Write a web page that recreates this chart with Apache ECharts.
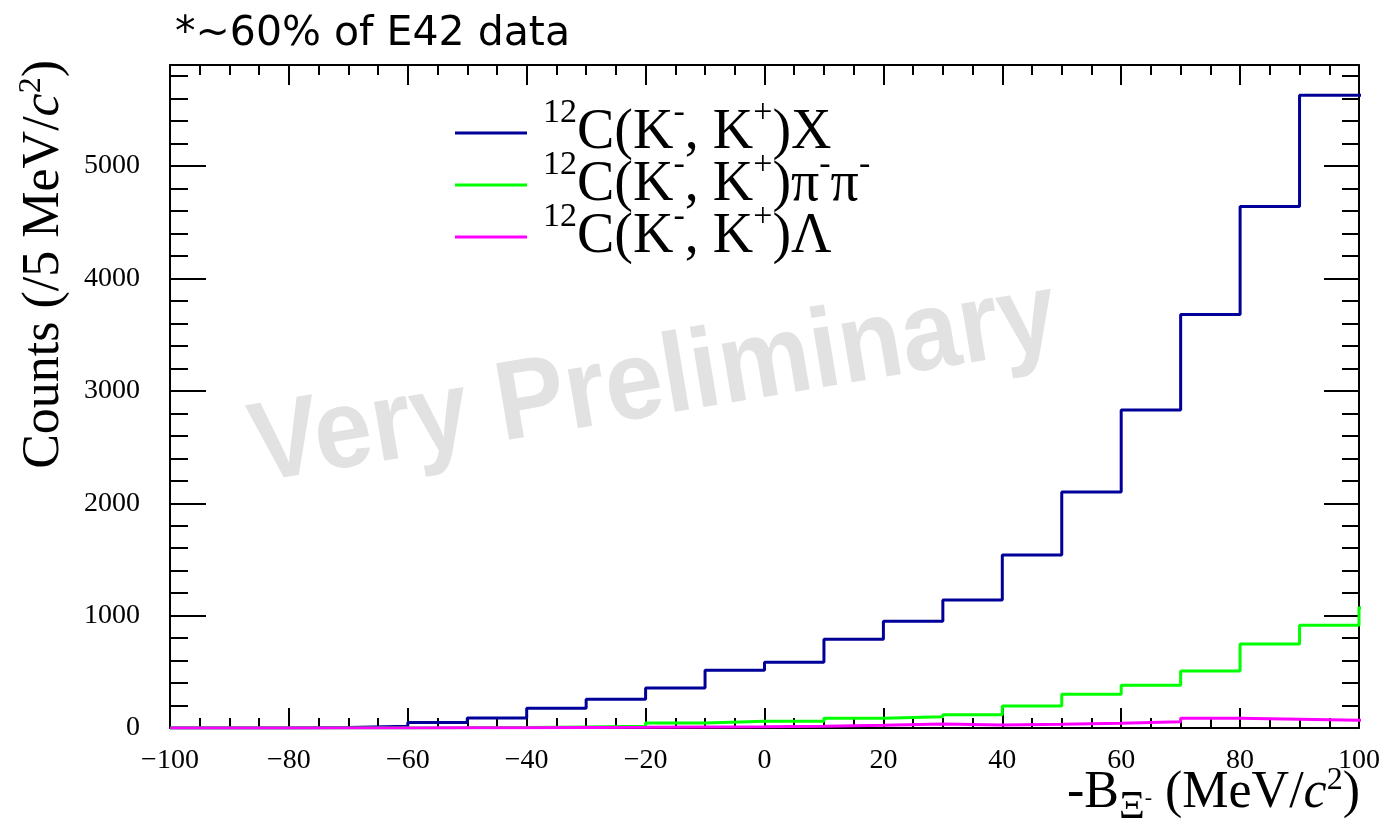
<!DOCTYPE html>
<html>
<head>
<meta charset="utf-8">
<script src="https://cdn.jsdelivr.net/npm/echarts@6/dist/echarts.min.js"></script>
<style>
html,body{margin:0;padding:0;background:#fff;}
#chart{width:1383px;height:821px;}
</style>
</head>
<body>
<div id="chart"></div>
<script>
// ---- data (bin low edges, 10 MeV bins; last entry = overflow bin) ----
const binLow = [-100,-90,-80,-70,-60,-50,-40,-30,-20,-10,0,10,20,30,40,50,60,70,80,90,100];
const inclusive = [0,0,4,15,50,90,175,255,355,515,585,790,950,1140,1540,2100,2830,3680,4640,5630,5630];
const pipi      = [0,0,0,0,2,5,10,15,45,60,60,87,100,119,196,300,380,507,748,914,1070];
const lambda    = [0,0,0,0,2,3,5,6,10,12,15,25,36,27,33,42,56,86,77,68,68];
const seriesNames = ['X','pipi','Lambda'];
const seriesColors = ['#000099','#00ff00','#ff00ff'];
const xTicks = {min:-100, max:100, interval:20};
const yTicks = {min:0, max:5900, interval:1000, minor:200};

function pairs(vals){
  const out = binLow.map((x,i)=>[x, vals[i]]);
  out.push([binLow[binLow.length-1]+10, vals[vals.length-1]]);
  return out;
}
const allVals = [inclusive, pipi, lambda];

const serif = 'Liberation Serif, Times New Roman, serif';
const legendRich = {
  n:  {fontFamily: serif, fontSize: 56, verticalAlign:'middle', color:'#000'},
  s:  {fontFamily: serif, fontSize: 34, padding:[0,0,40,0], verticalAlign:'middle', color:'#000'},
  gap:{width: 11}
};
const legendText = {
  X:      '{gap|}{s|12}{n|C(K}{s|-}{n|, K}{s|+}{n|)X}',
  pipi:   '{gap|}{s|12}{n|C(K}{s|-}{n|, K}{s|+}{n|)π}{s|-}{n|π}{s|-}',
  Lambda: '{gap|}{s|12}{n|C(K}{s|-}{n|, K}{s|+}{n|)Λ}'
};

const chart = echarts.init(document.getElementById('chart'), null, {renderer:'canvas'});
const tickStyle = {color:'#000', width:2};
const option = {
  animation: false,
  backgroundColor: '#fff',
  grid: {left:170, right:23, top:65, bottom:93, containLabel:false},
  legend: {
    orient:'vertical', left:455, top:96, itemGap:-13, padding:0,
    itemWidth:72, itemHeight:3, icon:'rect',
    data: seriesNames,
    formatter: name => legendText[name],
    textStyle: {rich: legendRich}
  },
  xAxis: [
    {type:'value', position:'bottom', min:xTicks.min, max:xTicks.max, interval:xTicks.interval,
     axisLine:{show:true, onZero:false, lineStyle:{color:'#000', width:2}},
     axisTick:{show:true, inside:true, length:20, lineStyle:tickStyle},
     minorTick:{show:true, splitNumber:4, length:10, lineStyle:tickStyle},
     splitLine:{show:false},
     axisLabel:{show:true, margin:19, color:'#000', fontFamily:serif, fontSize:28,
       formatter: v => v < 0 ? '\u2212' + (-v) : String(v)}},
    {type:'value', position:'top', min:xTicks.min, max:xTicks.max, interval:xTicks.interval,
     axisLine:{show:true, onZero:false, lineStyle:{color:'#000', width:2}},
     axisTick:{show:true, inside:true, length:20, lineStyle:tickStyle},
     minorTick:{show:true, splitNumber:4, length:10, lineStyle:tickStyle},
     splitLine:{show:false}, axisLabel:{show:false}}
  ],
  yAxis: [
    {type:'value', position:'left', min:yTicks.min, max:yTicks.max, interval:yTicks.interval,
     axisLine:{show:true, onZero:false, lineStyle:{color:'#000', width:2}},
     axisTick:{show:true, inside:true, length:36, lineStyle:tickStyle},
     splitLine:{show:false},
     axisLabel:{show:true, margin:30, color:'#000', fontFamily:serif, fontSize:28,
       formatter: v => (v % yTicks.interval === 0) ? String(v) : ''}},
    {type:'value', position:'left', min:yTicks.min, max:yTicks.max, interval:yTicks.minor,
     axisLine:{show:false, onZero:false},
     axisTick:{show:true, inside:true, length:18, lineStyle:tickStyle},
     splitLine:{show:false}, axisLabel:{show:false}},
    {type:'value', position:'right', min:yTicks.min, max:yTicks.max, interval:yTicks.interval,
     axisLine:{show:true, onZero:false, lineStyle:{color:'#000', width:2}},
     axisTick:{show:true, inside:true, length:35, lineStyle:tickStyle},
     splitLine:{show:false}, axisLabel:{show:false}},
    {type:'value', position:'right', min:yTicks.min, max:yTicks.max, interval:yTicks.minor,
     axisLine:{show:false, onZero:false},
     axisTick:{show:true, inside:true, length:17, lineStyle:tickStyle},
     splitLine:{show:false}, axisLabel:{show:false}}
  ],
  series: seriesNames.map((nm,i)=>({
    name:nm, type:'line', step:'end', symbol:'none', showSymbol:false, clip:true,
    xAxisIndex:0, yAxisIndex:0,
    lineStyle:{color:seriesColors[i], width:3},
    itemStyle:{color:seriesColors[i]},
    data: pairs(allVals[i]), z: 3+i
  })),
  graphic: [
    {type:'text', z:1, x:654, y:384, rotation: 9.5*Math.PI/180, scaleY:1.08,
     style:{text:'Very Preliminary', fill:'#e2e2e2', font:'bold 104px "Liberation Sans", Arial, sans-serif',
       textAlign:'center', textVerticalAlign:'middle'}},
    {type:'text', z:10, x:175, y:34,
     style:{text:'*~60% of E42 data', fill:'#000', font:'41px "DejaVu Sans", sans-serif',
       textAlign:'left', textVerticalAlign:'middle'}},
    {type:'text', z:10, x:1360, y:793,
     style:{
       text:'{n|-B}{lo|Ξ}{ss|-}{n| (MeV/}{it|c}{sp|2}{n|)}',
       textAlign:'right', textVerticalAlign:'middle',
       rich:{
         n:{fontFamily:serif, fontSize:52, verticalAlign:'middle', fill:'#000'},
         lo:{fontFamily:serif, fontSize:40, padding:[28,0,0,0], verticalAlign:'middle', fill:'#000'},
         ss:{fontFamily:serif, fontSize:22, padding:[10,0,0,0], verticalAlign:'middle', fill:'#000'},
         it:{fontFamily:serif, fontStyle:'italic', fontSize:52, verticalAlign:'middle', fill:'#000'},
         sp:{fontFamily:serif, fontSize:32, padding:[0,0,24,0], verticalAlign:'middle', fill:'#000'}
       }}},
    {type:'text', z:10, x:44, y:60, rotation: Math.PI/2,
     style:{
       text:'{n|Counts (/5 MeV/}{it|c}{sp|2}{n|)}',
       textAlign:'right', textVerticalAlign:'middle',
       rich:{
         n:{fontFamily:serif, fontSize:52, verticalAlign:'middle', fill:'#000'},
         it:{fontFamily:serif, fontStyle:'italic', fontSize:52, verticalAlign:'middle', fill:'#000'},
         sp:{fontFamily:serif, fontSize:32, padding:[0,0,24,0], verticalAlign:'middle', fill:'#000'}
       }}}
  ]
};
chart.setOption(option);
</script>
</body>
</html>
